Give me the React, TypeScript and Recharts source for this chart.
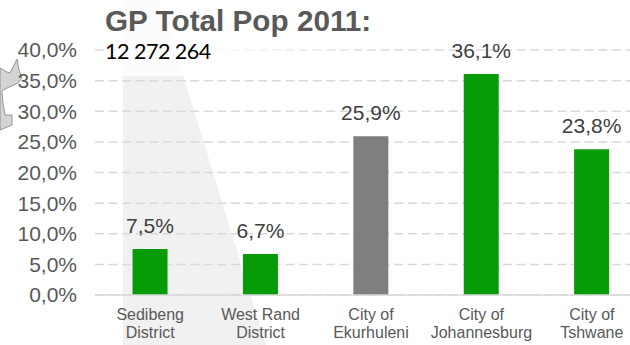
import React from "react";
import { BarChart, Bar, XAxis, YAxis, CartesianGrid, Cell, LabelList } from "recharts";

const categories = ["Sedibeng District", "West Rand District", "City of Ekurhuleni", "City of Johannesburg", "City of Tshwane"];
const shares = [7.5, 6.7, 25.9, 36.1, 23.8];
const barColors = ["#089B08", "#089B08", "#7F7F7F", "#089B08", "#089B08"];
const yTicks = [0, 5, 10, 15, 20, 25, 30, 35, 40];

const rows = categories.map((name, i) => ({ name, share: shares[i] }));
const percent = (v: number) => v.toFixed(1).replace(".", ",") + "%";

// Two-line category label: the last word goes on the second line.
function CategoryTick({ x, y, payload }: any) {
  const words: string[] = payload.value.split(" ");
  const first = words.slice(0, words.length - 1).join(" ");
  const second = words[words.length - 1];
  return (
    <text x={x} y={295} textAnchor="middle" fontSize={16} fill="#595959" fontFamily="Liberation Sans">
      <tspan x={x} dy={25}>{first}</tspan>
      <tspan x={x} dy={18}>{second}</tspan>
    </text>
  );
}

export default function App() {
  return (
    <div style={{ position: "absolute", left: 0, top: 0, width: 630, height: 345, overflow: "hidden", background: "#fff" }}>
      {/* Wedge behind the bars and the province outline at the left edge */}
      <svg width={630} height={345} style={{ position: "absolute", left: 0, top: 0 }}>
        <polygon points="123,0 160,0 266,345 123,345" fill="#F1F1F1" />
        <polygon
          points="0,68 7,72 10,73 17,59 19,70 22,78 18,83 3,90 2,92 3,103 5,115 12,115 12,125 0,130"
          fill="#D4D4D4"
          stroke="#808080"
          strokeWidth={0.8}
        />
      </svg>
      <div style={{ position: "absolute", left: 0, top: 0 }}>
        <BarChart width={670} height={345} data={rows} margin={{ top: 50, right: 23, bottom: 0, left: 0 }} barCategoryGap="34%">
          <CartesianGrid vertical={false} stroke="#D9D9D9" strokeWidth={1.5} strokeDasharray="9 4.6" />
          <XAxis dataKey="name" interval={0} axisLine={{ stroke: "#D9D9D9", strokeWidth: 1.5 }} tickLine={false} tick={<CategoryTick />} height={50} />
          <YAxis
            type="number"
            domain={[0, 40]}
            ticks={yTicks}
            interval={0}
            width={95}
            axisLine={false}
            tickLine={false}
            tickMargin={12}
            tickFormatter={percent}
            tick={{ fontSize: 21, fill: "#595959", fontFamily: "Liberation Sans" }}
          />
          <Bar dataKey="share" isAnimationActive={false}>
            {rows.map((r, i) => <Cell key={r.name} fill={barColors[i]} />)}
            <LabelList dataKey="share" position="top" offset={16} formatter={percent} style={{ fontSize: 21, fill: "#404040", fontFamily: "Liberation Sans" }} />
          </Bar>
        </BarChart>
      </div>
      {/* Title block: a white panel fading to the right, with the heading and total on top */}
      <svg width={630} height={345} style={{ position: "absolute", left: 0, top: 0 }}>
        <defs>
          <linearGradient id="panelFade" x1="0" y1="0" x2="1" y2="0">
            <stop offset="0" stopColor="#FFFFFF" stopOpacity={0.8} />
            <stop offset="0.4" stopColor="#FFFFFF" stopOpacity={0.8} />
            <stop offset="1" stopColor="#FFFFFF" stopOpacity={0} />
          </linearGradient>
        </defs>
        <rect x={105} y={0} width={300} height={76} fill="url(#panelFade)" />
        <text x={105} y={31} fontSize={29.7} fontWeight="bold" fill="#595959" fontFamily="Liberation Sans">GP Total Pop 2011:</text>
        <text x={105} y={59} fontSize={21.5} letterSpacing={-0.5} fill="#000" fontFamily="Lato">12 272 264</text>
      </svg>
    </div>
  );
}
